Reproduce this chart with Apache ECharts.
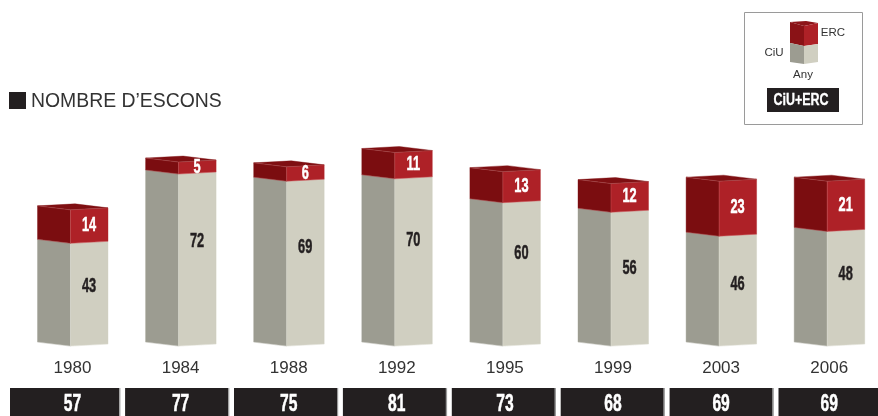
<!DOCTYPE html>
<html><head><meta charset="utf-8">
<style>html,body{margin:0;padding:0;background:#fff}#c{width:878px;height:416px}</style>
<script src="https://cdn.jsdelivr.net/npm/echarts@6/dist/echarts.min.js"></script>
</head><body><div id="c"></div>
<script>
const years = ['1980','1984','1988','1992','1995','1999','2003','2006'];
const ciuSeats = [43,72,69,70,60,56,46,48];
const ercSeats = [14,5,6,11,13,12,23,21];
const totalSeats = [57,77,75,81,73,68,69,69];
const chartTitle = 'NOMBRE D’ESCONS';

const SANS = '"Liberation Sans", Arial, sans-serif';
const INK = '#231f20';
const labelLift = [8,19,16,22,21,11,7,14];
const GREY = {left:'#9c9c91', right:'#d0cfc1', edge:'rgba(255,255,255,.3)'};
const RED = {left:'#7b0d10', right:'#ae2127', top:'#7f0f12', edge:'rgba(255,190,190,.28)'};

function face(points, fill){
  return {type:'polygon', shape:{points}, style:{fill, stroke:fill, lineWidth:0.4}, silent:true};
}
function slimText(text, x, y, size, fill, sx){
  return {type:'text', x, y, scaleX:sx, silent:true,
    style:{text, fill, stroke:fill, lineWidth:0.5, align:'center', verticalAlign:'middle', font:'bold '+size+'px '+SANS}};
}
function block(api, c, topFace){
  const i = api.value(0), lo = api.value(1), hi = api.value(2);
  const p0 = api.coord([i, lo]), p1 = api.coord([i, hi]);
  const cx = p0[0], yB = p0[1], yT = p1[1];
  const L = cx-35, M = cx-2, R = cx+35.5;
  const kids = [
    face([[L,yT-4],[M,yT],[M,yB],[L,yB-4]], c.left),
    face([[M,yT],[R,yT-2],[R,yB-2],[M,yB]], c.right),
    {type:'polyline', silent:true, shape:{points:[[L,yB-4],[M,yB],[R,yB-2]]},
      style:{stroke:c.edge, lineWidth:0.6, fill:null}}
  ];
  if(topFace){
    kids.push(face([[L,yT-4],[cx+2.5,yT-6],[R,yT-2],[M,yT]], c.top));
    kids.push({type:'polyline', silent:true, shape:{points:[[L,yT-4],[M,yT],[R,yT-2]]},
      style:{stroke:c.edge, lineWidth:0.7, fill:null}});
  }
  kids.push({type:'line', silent:true, shape:{x1:M,y1:yT,x2:M,y2:yB},
    style:{stroke:c.edge, lineWidth:0.6}});
  return {kids, cx, yT, yB, M, R};
}
function renderCiu(params, api){
  const b = block(api, GREY, false);
  const v = api.value(2)-api.value(1);
  b.kids.push(slimText(String(v), b.cx+16.5, (b.yT+b.yB)/2-labelLift[params.dataIndex], 20, INK, 0.64));
  return {type:'group', children:b.kids};
}
function renderErc(params, api){
  const b = block(api, RED, true);
  const v = api.value(2)-api.value(1);
  b.kids.push(slimText(String(v), b.cx+16.5, (b.yT+b.yB)/2-1, 20, '#fff', 0.64));
  return {type:'group', children:b.kids};
}
function renderTotal(params, api){
  const i = params.dataIndex, n = years.length;
  const base = api.coord([api.value(0), 0]);
  const cx = base[0], top = base[1]+42;
  const slot = 16.2+108.9*i;
  const x0 = i===0 ? 10 : slot;
  const x1 = i===n-1 ? 878 : slot+103;
  const kids = [
    {type:'rect', silent:true, shape:{x:x0,y:top,width:x1-x0,height:28}, style:{fill:INK}},
    slimText(String(api.value(1)), cx, top+17, 23, '#fff', 0.68)
  ];
  if(i<n-1) kids.push({type:'line', silent:true, shape:{x1:x1+0.6,y1:top,x2:x1+0.6,y2:top+28}, style:{stroke:'#9a9a9a',lineWidth:1.2}});
  return {type:'group', children:kids};
}

const chart = echarts.init(document.getElementById('c'), null, {renderer:'canvas'});
const lgFill = (pts,f)=>({type:'polygon',shape:{points:pts},style:{fill:f},silent:true});
const lgText = (t,x,y)=>({type:'text',x,y,silent:true,style:{text:t,fill:'#333',align:'center',verticalAlign:'middle',font:'11.5px '+SANS}});
chart.setOption({
  animation:false,
  backgroundColor:'#fff',
  title:{text:chartTitle,left:31,top:92.5,padding:0,
    textStyle:{fontFamily:SANS,fontSize:19.4,fontWeight:'normal',color:'#333'}},
  grid:{left:72.5,top:131,width:756.7,height:215.1,containLabel:false},
  xAxis:{type:'category',data:years,boundaryGap:false,
    axisLine:{show:false},axisTick:{show:false},splitLine:{show:false},
    axisLabel:{show:true,interval:0,margin:14,color:'#333',fontFamily:SANS,fontSize:17}},
  yAxis:{type:'value',min:0,max:90,show:false},
  series:[
    {type:'custom',name:'CiU',clip:false,renderItem:renderCiu,encode:{x:0,y:2},
      data:ciuSeats.map((v,i)=>[i,0,v])},
    {type:'custom',name:'ERC',clip:false,renderItem:renderErc,encode:{x:0,y:2},
      data:ercSeats.map((v,i)=>[i,ciuSeats[i],ciuSeats[i]+v])},
    {type:'custom',name:'CiU+ERC',clip:false,renderItem:renderTotal,encode:{x:0,y:1},
      data:totalSeats.map((v,i)=>[i,v])}
  ],
  graphic:[
    {type:'rect',silent:true,shape:{x:9,y:92,width:17,height:17},style:{fill:INK}},
    {type:'rect',silent:true,shape:{x:744.5,y:12.5,width:118,height:112},style:{fill:'#fff',stroke:'#9a9a9a',lineWidth:1}},
    lgFill([[790,22],[806,21],[818,23],[804,26]],'#8d1418'),
    lgFill([[790,22],[804,26],[804,46],[790,43]],'#8a1216'),
    lgFill([[804,26],[818,23],[818,44],[804,46]],RED.right),
    lgFill([[790,43],[804,46],[804,64],[790,62]],GREY.left),
    lgFill([[804,46],[818,44],[818,62],[804,64]],GREY.right),
    lgText('ERC',833,33), lgText('CiU',774,53), lgText('Any',803,75),
    {type:'rect',silent:true,shape:{x:767,y:88,width:72,height:24},style:{fill:INK}},
    {type:'text',silent:true,x:801,y:100.5,scaleX:0.78,style:{text:'CiU+ERC',fill:'#fff',stroke:'#fff',lineWidth:0.3,align:'center',verticalAlign:'middle',font:'bold 16px '+SANS}}
  ]
});
</script></body></html>
